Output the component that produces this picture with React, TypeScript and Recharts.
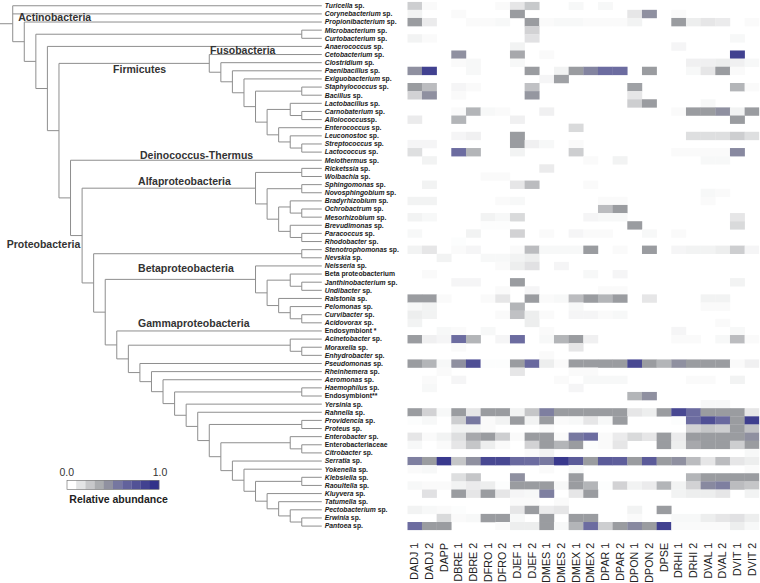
import React from 'react';
import { ComposedChart, Line, Scatter, XAxis, YAxis, Legend } from 'recharts';

// ---------------- data ----------------
const COLUMNS = ['DADJ 1', 'DADJ 2', 'DAPP', 'DBRE 1', 'DBRE 2', 'DFRO 1', 'DFRO 2', 'DJEF 1', 'DJEF 2', 'DMES 1', 'DMES 2', 'DMEX 1', 'DMEX 2', 'DPAR 1', 'DPAR 2', 'DPON 1', 'DPON 2', 'DPSE', 'DRHI 1', 'DRHI 2', 'DVAL 1', 'DVAL 2', 'DVIT 1', 'DVIT 2'];

const TAXA = [
  'Turicella sp.', 'Corynebacterium sp.', 'Propionibacterium sp.', 'Microbacterium sp.', 'Curtobacterium sp.',
  'Anaerococcus sp.', 'Cetobacterium sp.', 'Clostridium sp.', 'Paenibacillus sp.', 'Exiguobacterium sp.',
  'Staphylococcus sp.', 'Bacillus sp.', 'Lactobacillus sp.', 'Carnobaterium sp.', 'Alloiococcussp.',
  'Enterococcus sp.', 'Leuconostoc sp.', 'Streptococcus sp.', 'Lactococcus sp.', 'Meiothermus sp.',
  'Ricketssia sp.', 'Wolbachia sp.', 'Sphingomonas sp.', 'Novosphingobium sp.', 'Bradyrhizobium sp.',
  'Ochrobactrum sp.', 'Mesorhizobium sp.', 'Brevudimonas sp.', 'Paracoccus sp.', 'Rhodobacter sp.',
  'Stenotrophomonas sp.', 'Nevskia sp.', 'Neisseria sp.', 'Beta proteobacterium', 'Janthinobacterium sp.',
  'Undibacter sp.', 'Ralstonia sp.', 'Pelomonas sp.', 'Curvibacter sp.', 'Acidovorax sp.',
  'Endosymbiont *', 'Acinetobacter sp.', 'Moraxella sp.', 'Enhydrobacter sp.', 'Pseudomonas sp.',
  'Rheinhemera  sp.', 'Aeromonas sp.', 'Haemophilus sp.', 'Endosymbiont**', 'Yersinia sp.',
  'Rahnella sp.', 'Providencia sp.', 'Proteus sp.', 'Enterobacter sp.', 'Enterobacteriaceae',
  'Citrobacter sp.', 'Serratia sp.', 'Yokenella sp.', 'Klebsiella sp.', 'Raoultella sp.',
  'Kluyvera sp.', 'Tatumella sp.', 'Pectobacterium sp.', 'Erwinia sp.', 'Pantoea sp.',
];

// relative abundance, one row per taxon (same order as TAXA), one value per column
const ABUNDANCE: number[][] = [
  [.2, .02, 0, 0, 0, 0, .02, .1, .22, 0, 0, .03, 0, .03, 0, 0, 0, 0, 0, 0, 0, 0, 0, 0],
  [.05, 0, 0, .02, 0, 0, 0, .4, 0, 0, 0, 0, 0, 0, 0, .1, .45, 0, .02, 0, 0, 0, 0, 0],
  [.4, .08, 0, 0, .02, .02, .03, 0, .4, .02, .03, .03, .02, .02, .02, .05, 0, 0, .4, .07, .1, .08, 0, .02],
  [0, 0, 0, 0, 0, 0, 0, 0, .18, 0, 0, 0, 0, 0, 0, 0, 0, 0, 0, 0, 0, 0, 0, 0],
  [.05, .02, 0, 0, 0, 0, 0, 0, .12, 0, 0, 0, 0, 0, 0, 0, 0, 0, 0, 0, 0, 0, .03, 0],
  [0, 0, 0, 0, 0, 0, 0, .05, 0, 0, 0, 0, 0, 0, 0, 0, 0, 0, .04, 0, 0, 0, 0, 0],
  [0, 0, 0, .45, 0, 0, 0, .35, 0, .02, 0, 0, 0, 0, 0, 0, 0, 0, 0, 0, 0, 0, .9, 0],
  [0, 0, 0, .02, .03, 0, 0, .03, 0, 0, 0, 0, 0, 0, 0, 0, 0, 0, 0, .06, .06, .07, .06, .03],
  [.45, .9, 0, 0, .03, 0, 0, 0, .4, 0, .05, .4, .5, .6, .6, 0, .4, 0, 0, .03, .1, .4, .02, 0],
  [0, 0, 0, 0, 0, 0, 0, 0, 0, .04, .38, 0, 0, 0, 0, 0, 0, 0, 0, 0, 0, 0, 0, 0],
  [.4, .27, 0, .04, .02, 0, 0, 0, .25, 0, 0, 0, 0, 0, 0, .38, 0, 0, 0, 0, 0, 0, .3, .02],
  [.18, .45, 0, .02, 0, 0, 0, 0, .42, 0, 0, 0, 0, 0, 0, .1, 0, 0, 0, 0, 0, 0, 0, 0],
  [0, 0, 0, 0, 0, 0, 0, 0, 0, 0, 0, 0, 0, 0, 0, .2, .4, 0, 0, 0, .03, 0, 0, 0],
  [0, 0, 0, .02, .3, .03, .02, 0, 0, .06, 0, 0, 0, 0, 0, 0, 0, 0, .02, .4, .4, .45, .05, .4],
  [.08, 0, 0, .3, 0, 0, 0, .06, 0, 0, 0, 0, 0, 0, 0, 0, 0, 0, 0, 0, 0, 0, .4, 0],
  [0, 0, 0, 0, 0, 0, 0, 0, 0, 0, 0, .15, 0, 0, 0, 0, 0, 0, 0, 0, 0, 0, 0, 0],
  [0, 0, 0, .04, .06, 0, 0, .4, 0, 0, 0, 0, 0, 0, 0, 0, 0, 0, 0, .13, .13, .13, .2, .13],
  [.04, .04, 0, 0, 0, 0, 0, .4, .06, .03, 0, .02, 0, 0, 0, 0, 0, 0, 0, 0, 0, 0, 0, 0],
  [.13, 0, 0, .6, .3, 0, 0, .05, 0, 0, 0, .2, 0, 0, 0, 0, 0, 0, .02, .02, .02, .02, .48, 0],
  [0, .05, 0, 0, 0, 0, 0, 0, 0, 0, 0, 0, .02, 0, .05, 0, 0, 0, 0, 0, .03, .03, 0, 0],
  [0, 0, 0, 0, 0, 0, 0, 0, 0, .08, 0, 0, 0, 0, 0, 0, 0, 0, 0, 0, 0, 0, 0, 0],
  [0, 0, 0, 0, 0, .02, .02, 0, 0, 0, 0, 0, 0, 0, 0, 0, 0, 0, 0, 0, 0, 0, 0, 0],
  [0, .05, 0, 0, 0, 0, 0, .1, .27, 0, 0, 0, .02, 0, 0, 0, 0, 0, 0, 0, 0, 0, 0, 0],
  [0, 0, 0, 0, 0, 0, 0, 0, 0, 0, 0, 0, 0, 0, 0, 0, 0, 0, 0, 0, .03, .02, 0, 0],
  [.05, .05, 0, 0, 0, 0, .02, .03, 0, 0, 0, 0, 0, .02, .02, 0, 0, 0, 0, 0, .02, 0, 0, 0],
  [0, 0, 0, 0, 0, 0, 0, 0, 0, 0, 0, 0, 0, .27, .4, 0, 0, 0, 0, 0, 0, 0, 0, 0],
  [.05, .03, 0, 0, 0, .05, .03, .15, 0, 0, 0, 0, .04, .03, .03, 0, 0, 0, 0, 0, 0, 0, .1, 0],
  [0, 0, 0, 0, 0, .01, .01, 0, 0, 0, 0, 0, 0, 0, 0, .4, 0, 0, 0, 0, 0, 0, .15, 0],
  [.03, 0, 0, 0, .05, 0, 0, .18, 0, .02, 0, .04, .02, .02, 0, 0, .03, 0, .02, 0, 0, 0, 0, 0],
  [0, 0, 0, .01, 0, 0, 0, 0, 0, 0, 0, 0, 0, 0, 0, 0, 0, 0, 0, 0, 0, 0, 0, 0],
  [.05, .1, 0, .02, .04, 0, 0, .02, .27, .03, .03, .03, .4, 0, .02, 0, .4, 0, .04, .05, .05, .07, .2, .04],
  [0, 0, .05, 0, 0, .03, .03, .05, .07, 0, 0, 0, 0, 0, 0, 0, 0, 0, 0, 0, 0, 0, 0, 0],
  [0, 0, 0, 0, 0, 0, .02, .07, .12, 0, .04, 0, 0, 0, 0, 0, 0, 0, 0, 0, 0, 0, 0, 0],
  [0, .02, 0, 0, 0, 0, 0, 0, 0, 0, 0, 0, .03, 0, .04, 0, 0, 0, 0, 0, 0, 0, 0, 0],
  [0, 0, 0, .04, .04, 0, 0, .4, 0, 0, 0, 0, 0, 0, 0, 0, 0, 0, 0, 0, 0, 0, .05, 0],
  [0, 0, 0, 0, 0, 0, .02, 0, .04, 0, 0, 0, 0, .02, .02, 0, 0, 0, 0, 0, 0, 0, 0, 0],
  [.4, .4, .02, 0, 0, .02, .1, 0, .4, .02, .03, .27, .4, .3, .4, 0, .1, 0, 0, 0, .05, .05, 0, 0],
  [.03, .05, 0, 0, 0, 0, 0, .3, 0, 0, 0, .03, 0, 0, 0, 0, 0, 0, 0, 0, .02, .02, 0, 0],
  [.07, .05, 0, 0, 0, 0, .02, .25, .07, .02, 0, .04, .04, .02, .03, 0, 0, 0, 0, 0, 0, 0, 0, 0],
  [.05, 0, 0, 0, 0, 0, 0, 0, .07, 0, 0, 0, 0, 0, 0, 0, 0, 0, 0, 0, 0, .02, 0, 0],
  [0, 0, .03, .02, 0, .03, 0, 0, 0, .02, 0, 0, 0, 0, 0, 0, 0, 0, .04, 0, 0, 0, .03, 0],
  [.4, .06, .04, .6, .3, 0, .04, .6, 0, .03, .3, .4, .06, 0, 0, 0, 0, 0, .02, .02, 0, .03, .27, .02],
  [0, 0, 0, .02, 0, 0, 0, 0, 0, 0, 0, .1, 0, 0, 0, 0, 0, 0, 0, 0, 0, 0, 0, 0],
  [0, 0, 0, 0, 0, 0, 0, 0, 0, .02, 0, 0, 0, 0, 0, 0, 0, 0, 0, 0, 0, 0, 0, 0],
  [.4, .3, .03, .45, .8, .01, .01, .4, .62, .07, .02, .4, .4, .4, .4, .85, .4, .3, .45, .4, .4, .4, .02, .06],
  [0, 0, .02, 0, 0, 0, 0, .1, 0, 0, 0, .02, .02, 0, 0, 0, 0, 0, 0, 0, 0, 0, 0, 0],
  [0, .02, 0, .04, 0, 0, 0, 0, 0, 0, .02, 0, .03, .03, .03, 0, 0, 0, 0, .02, .02, 0, .05, 0],
  [0, .03, 0, 0, 0, 0, 0, 0, 0, 0, 0, .04, 0, 0, 0, 0, 0, 0, 0, 0, 0, 0, 0, 0],
  [0, 0, 0, 0, 0, 0, 0, 0, 0, 0, 0, 0, 0, 0, 0, .3, .45, 0, 0, 0, 0, 0, 0, 0],
  [0, 0, 0, 0, 0, 0, 0, 0, 0, 0, 0, 0, 0, 0, 0, 0, 0, 0, 0, 0, .03, .03, 0, 0],
  [.4, .18, .03, .4, .1, .4, .4, .05, .23, .52, .4, .4, .4, .4, .4, .1, .07, .4, .85, .6, .4, .4, .4, .1],
  [.01, .03, 0, .2, .55, .02, .05, .4, .05, .4, .02, .03, .1, .03, .4, 0, 0, 0, .01, .6, .8, .62, .4, .92],
  [0, 0, 0, .05, .05, .02, 0, 0, 0, .02, 0, 0, 0, 0, 0, 0, 0, 0, 0, .18, .23, .2, .4, .25],
  [.1, .02, .05, .13, .35, .4, .2, .02, .4, .4, .02, .55, .6, .02, .08, .15, .1, .4, .08, .4, .4, .4, .4, .45],
  [.03, 0, .02, .1, .23, .07, .02, 0, .18, .4, .3, .4, .01, .02, .1, 0, 0, .4, .07, .35, .4, .4, .2, .4],
  [0, 0, 0, 0, 0, 0, 0, 0, .02, .05, 0, 0, 0, 0, 0, 0, 0, 0, 0, 0, 0, 0, 0, .03],
  [.52, .4, .95, .23, .45, .85, .85, .62, .6, .55, .95, .72, .4, .72, .7, .4, .72, .4, .45, .27, .1, .27, .1, .07],
  [.02, .03, 0, 0, 0, 0, 0, 0, 0, .02, 0, .03, 0, 0, 0, 0, 0, 0, 0, 0, 0, 0, 0, .02],
  [0, 0, 0, .13, .23, 0, 0, .45, 0, 0, 0, .4, 0, 0, 0, 0, 0, 0, 0, .3, .4, .4, .4, .4],
  [.03, .02, .02, .05, .08, .07, .01, .4, .4, .4, .03, .4, .3, .01, .18, .05, .08, .3, .05, .18, .48, .52, .27, .23],
  [0, .12, 0, .4, .1, .4, .1, .04, .03, .52, 0, .1, .4, 0, 0, 0, 0, 0, .05, .07, .07, .1, 0, .05],
  [0, 0, 0, 0, 0, 0, 0, .02, .02, 0, .02, 0, 0, 0, 0, 0, 0, 0, 0, 0, 0, 0, 0, 0],
  [.05, .03, .02, .01, 0, 0, 0, .1, .4, .08, .1, 0, 0, 0, 0, .05, 0, .4, 0, 0, 0, 0, 0, 0],
  [0, 0, .15, .02, .03, .4, .4, .03, 0, .4, 0, .4, .4, 0, 0, .02, 0, 0, .03, .03, .07, .1, .12, .07],
  [.6, .4, .4, 0, 0, 0, .02, .07, .07, .4, .03, .3, .6, .2, .4, .48, .4, .9, .02, .02, .02, .02, .07, .03],
];

// cladogram: [node depth level, ...children]; leaves are taxon names
type TreeNode = string | [number, ...TreeNode[]];
const TREE: TreeNode = [1,
  'Turicella sp.',
  'Corynebacterium sp.',
  [2, 'Propionibacterium sp.',
    [3,
      [26, 'Microbacterium sp.', 'Curtobacterium sp.'],
      [4, 'Anaerococcus sp.',
        [5,
          [18, 'Cetobacterium sp.',
            [19, 'Clostridium sp.',
              [20, 'Paenibacillus sp.',
                [21, 'Exiguobacterium sp.',
                  [22,
                    [26, 'Staphylococcus sp.', 'Bacillus sp.'],
                    [23,
                      [25, 'Lactobacillus sp.', [26, 'Carnobaterium sp.', 'Alloiococcussp.']],
                      [24, 'Enterococcus sp.', [25, 'Leuconostoc sp.', [26, 'Streptococcus sp.', 'Lactococcus sp.']]],
                    ],
                  ],
                ],
              ],
            ],
          ],
          [6, 'Meiothermus sp.',
            [7,
              [22,
                [26, 'Ricketssia sp.', 'Wolbachia sp.'],
                [23,
                  [26, 'Sphingomonas sp.', 'Novosphingobium sp.'],
                  [24,
                    [25, 'Bradyrhizobium sp.', [26, 'Ochrobactrum sp.', 'Mesorhizobium sp.']],
                    [25, 'Brevudimonas sp.', [26, 'Paracoccus sp.', 'Rhodobacter sp.']],
                  ],
                ],
              ],
              [8,
                [26, 'Stenotrophomonas sp.', 'Nevskia sp.'],
                [9,
                  [22, 'Neisseria sp.',
                    [23,
                      [25, 'Beta proteobacterium', [26, 'Janthinobacterium sp.', 'Undibacter sp.']],
                      [24, 'Ralstonia sp.', [25, 'Pelomonas sp.', [26, 'Curvibacter sp.', 'Acidovorax sp.']]],
                    ],
                  ],
                  [10, 'Endosymbiont *',
                    [11,
                      [25, 'Acinetobacter sp.', [26, 'Moraxella sp.', 'Enhydrobacter sp.']],
                      [12, 'Pseudomonas sp.',
                        [13, 'Rheinhemera  sp.',
                          [14, 'Aeromonas sp.',
                            [15, [26, 'Haemophilus sp.', 'Endosymbiont**'],
                              [16, 'Yersinia sp.',
                                [17, 'Rahnella sp.',
                                  [18, [26, 'Providencia sp.', 'Proteus sp.'],
                                    [19, [25, 'Enterobacter sp.', [26, 'Enterobacteriaceae', 'Citrobacter sp.']],
                                      [20, 'Serratia sp.',
                                        [21, 'Yokenella sp.',
                                          [22, [26, 'Klebsiella sp.', 'Raoultella sp.'],
                                            [23, 'Kluyvera sp.',
                                              [24, 'Tatumella sp.',
                                                [25, 'Pectobacterium sp.', [26, 'Erwinia sp.', 'Pantoea sp.']],
                                              ],
                                            ],
                                          ],
                                        ],
                                      ],
                                    ],
                                  ],
                                ],
                              ],
                            ],
                          ],
                        ],
                      ],
                    ],
                  ],
                ],
              ],
            ],
          ],
        ],
      ],
    ],
  ],
];

const LEAF_LEVEL = 27.73;
const ROOT_STEM_FROM = -0.1;

// clade labels: tree level (x) and row position of the text baseline (y)
const CLADE_NAMES = ['Actinobacteria', 'Fusobacteria', 'Firmicutes', 'Deinococcus-Thermus', 'Alfaproteobacteria', 'Proteobacteria', 'Betaproteobacteria', 'Gammaproteobacteria'];
const CLADE_LEVELS = [1.48, 18.07, 9.68, 12.01, 11.84, 0.48, 11.84, 11.84];
const CLADE_ROWS = [1.85, 5.88, 8.33, 18.82, 22.1, 29.83, 32.8, 39.55];

const LEGEND_TICKS = ['0.0', '1.0'];
const LEGEND_TITLE = 'Relative abundance';
const LEGEND_STEPS = 10;

// ---------------- layout constants ----------------
const FONT = '"Liberation Sans", Arial, Helvetica, sans-serif';
const W = 760;
const H = 583;
const PLOT_TOP = 1.7;
const ROW_H = 8.13;
const PLOT_H = ROW_H * TAXA.length;
const PLOT_BOTTOM_GAP = H - PLOT_TOP - PLOT_H;
const TREE_W = 407;
const HEAT_W = W - TREE_W;
const HEAT_PLOT_W = 352;
const CELL_W = HEAT_PLOT_W / COLUMNS.length;

// ---------------- derived tables ----------------
const COLOR_STOPS: [number, number[]][] = [
  [0, [255, 255, 255]],
  [0.4, [154, 156, 160]],
  [0.6, [108, 108, 160]],
  [1, [50, 50, 138]],
];
function colorFor(v: number): string {
  const t = Math.max(0, Math.min(1, v));
  for (let i = 1; i < COLOR_STOPS.length; i++) {
    const [t1, c1] = COLOR_STOPS[i];
    const [t0, c0] = COLOR_STOPS[i - 1];
    if (t <= t1) {
      const f = (t - t0) / (t1 - t0);
      const c = c0.map((a, k) => Math.round(a + (c1[k] - a) * f));
      return `rgb(${c[0]},${c[1]},${c[2]})`;
    }
  }
  return 'rgb(50,50,138)';
}

type Pt = { x: number; y: number | null };
const TREE_SEGMENTS: Pt[] = [];
function addSeg(x1: number, y1: number, x2: number, y2: number) {
  TREE_SEGMENTS.push({ x: x1, y: y1 }, { x: x2, y: y2 }, { x: x2, y: null });
}
function layout(node: TreeNode): { y: number; level: number } {
  if (typeof node === 'string') return { y: TAXA.indexOf(node), level: LEAF_LEVEL };
  const [d, ...children] = node;
  const res = children.map(layout);
  const yTop = res[0].y;
  const yBot = res[res.length - 1].y;
  addSeg(d, yTop, d, yBot);
  res.forEach((r) => addSeg(d, r.y, r.level, r.y));
  return { y: (yTop + yBot) / 2, level: d };
}
const ROOT = layout(TREE);
addSeg(ROOT_STEM_FROM, ROOT.y, ROOT.level, ROOT.y);

const LEAF_POINTS = TAXA.map((name, i) => ({ x: LEAF_LEVEL, y: i, name }));
const CLADE_POINTS = CLADE_NAMES.map((label, i) => ({ x: CLADE_LEVELS[i], y: CLADE_ROWS[i], label }));
const CELLS = ABUNDANCE.flatMap((row, r) => row.map((v, c) => ({ x: c, y: r, v })));
const COL_INDEX = COLUMNS.map((_, i) => i);

// ---------------- renderers ----------------
const LeafLabel = (props: any) => {
  const { cx, cy, payload } = props;
  if (cx == null || cy == null) return <g />;
  const m = /^(.*?)(\s*sp\.)$/.exec(payload.name);
  return (
    <text x={cx + 3} y={cy} dy="0.35em" fontSize={6.8} fontWeight="bold" fontFamily={FONT} fill="#1a1a1a">
      {m ? (
        <>
          <tspan fontStyle="italic">{m[1]}</tspan>
          <tspan>{m[2]}</tspan>
        </>
      ) : (
        payload.name
      )}
    </text>
  );
};

const CladeLabel = (props: any) => {
  const { cx, cy, payload } = props;
  if (cx == null || cy == null) return <g />;
  return (
    <text x={cx} y={cy} fontSize={10.5} fontWeight="bold" fontFamily={FONT} fill="#333">
      {payload.label}
    </text>
  );
};

const HeatCell = (props: any) => {
  const { cx, cy, payload } = props;
  if (cx == null || cy == null || !payload || payload.v <= 0) return <g />;
  return (
    <rect
      x={cx - CELL_W / 2}
      y={cy - ROW_H / 2}
      width={CELL_W + 0.25}
      height={ROW_H + 0.25}
      fill={colorFor(payload.v)}
    />
  );
};

const ColumnTick = (props: any) => {
  const { x, y, payload } = props;
  const ty = y + 12.7;
  return (
    <text
      x={x}
      y={ty}
      dy="0.36em"
      transform={`rotate(-90, ${x}, ${ty})`}
      textAnchor="end"
      fontSize={10.7}
      fontFamily={FONT}
      fill="#222"
    >
      {COLUMNS[payload.value]}
    </text>
  );
};

const ColorBar = () => {
  const barX = 12;
  const barY = 15.3;
  const barW = 92;
  const barH = 9;
  const step = barW / LEGEND_STEPS;
  return (
    <svg width={125} height={42} style={{ display: 'block', overflow: 'visible' }}>
      <text x={barX - 0.3} y={11.3} textAnchor="middle" fontSize={10.5} fontFamily={FONT} fill="#333">
        {LEGEND_TICKS[0]}
      </text>
      <text x={barX + barW + 1} y={11.3} textAnchor="middle" fontSize={10.5} fontFamily={FONT} fill="#333">
        {LEGEND_TICKS[1]}
      </text>
      {Array.from({ length: LEGEND_STEPS }, (_, i) => (
        <rect key={i} x={barX + i * step} y={barY} width={step + 0.2} height={barH} fill={colorFor(i / (LEGEND_STEPS - 1))} />
      ))}
      <rect x={barX} y={barY} width={barW} height={barH} fill="none" stroke="#666" strokeWidth={0.6} />
      <text x={barX + 2.3} y={37.5} fontSize={10.5} fontWeight="bold" fontFamily={FONT} fill="#222">
        {LEGEND_TITLE}
      </text>
    </svg>
  );
};

export default function App() {
  return (
    <div style={{ position: 'absolute', left: 0, top: 0, width: W, height: H, background: '#fff' }}>
      <div style={{ position: 'absolute', left: 0, top: 0 }}>
        <ComposedChart width={TREE_W} height={H} margin={{ top: PLOT_TOP, right: 0, bottom: PLOT_BOTTOM_GAP, left: 0 }}>
          <XAxis type="number" dataKey="x" domain={[-0.1, 35.1]} hide allowDataOverflow />
          <YAxis type="number" dataKey="y" domain={[-0.5, TAXA.length - 0.5]} reversed hide width={0} allowDataOverflow />
          <Line
            data={TREE_SEGMENTS}
            dataKey="y"
            type="linear"
            stroke="#8e8e8e"
            strokeWidth={1}
            dot={false}
            activeDot={false}
            connectNulls={false}
            isAnimationActive={false}
          />
          <Scatter data={LEAF_POINTS} shape={LeafLabel} isAnimationActive={false} />
          <Scatter data={CLADE_POINTS} shape={CladeLabel} isAnimationActive={false} />
          <Legend
            content={<ColorBar />}
            layout="vertical"
            align="center"
            verticalAlign="middle"
            wrapperStyle={{ position: 'absolute', left: 55, top: 465, width: 125, height: 42 }}
          />
        </ComposedChart>
      </div>
      <div style={{ position: 'absolute', left: TREE_W, top: 0 }}>
        <ComposedChart width={HEAT_W} height={H} margin={{ top: PLOT_TOP, right: 0.7, bottom: 0, left: 0.3 }}>
          <XAxis
            type="number"
            dataKey="x"
            domain={[-0.5, COLUMNS.length - 0.5]}
            ticks={COL_INDEX}
            interval={0}
            height={PLOT_BOTTOM_GAP}
            tickLine={false}
            axisLine={false}
            tickSize={0}
            tickMargin={0}
            tick={(p: any) => <ColumnTick {...p} />}
            allowDataOverflow
          />
          <YAxis type="number" dataKey="y" domain={[-0.5, TAXA.length - 0.5]} reversed hide width={0} allowDataOverflow />
          <Scatter data={CELLS} shape={HeatCell} isAnimationActive={false} />
        </ComposedChart>
      </div>
    </div>
  );
}
